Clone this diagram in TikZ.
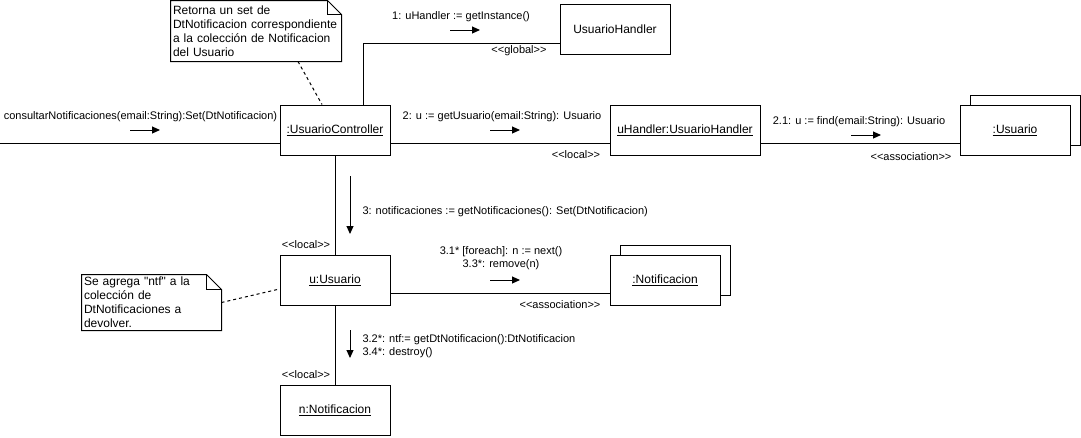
\documentclass[tikz,border=0pt]{standalone}
\usepackage{fontspec}
\newfontfamily\uifont{Liberation Sans}
\usetikzlibrary{arrows.meta}

\begin{document}
\begin{tikzpicture}[x=1pt, y=-1pt, line width=1pt, font=\uifont,
  obj/.style={draw, fill=white, minimum width=110pt, minimum height=50pt, inner sep=0pt, font=\uifont\fontsize{12}{14}\selectfont},
  lbl/.style={inner sep=0pt, font=\uifont\fontsize{11}{13}\selectfont},
  msg/.style={-{Triangle[length=8pt,width=7pt]}},
  notebox/.style={inner sep=2pt, align=left, font=\uifont\fontsize{12}{14}\selectfont},
  link/.style={dash pattern=on 3pt off 3pt}]

\useasboundingbox (0,0) rectangle (1081,437);

% objects
\node[obj] (ctrl) at (335,130) {\underline{:UsuarioController}};
\node[obj] (uh) at (615,29.5) {UsuarioHandler};
\node[obj, minimum width=150pt] (hdl) at (685,130) {\underline{uHandler:UsuarioHandler}};
\node[obj] (usrback) at (1025,120) {};
\node[obj] (usr) at (1015,130) {\underline{:Usuario}};
\node[obj] (uu) at (335,280) {\underline{u:Usuario}};
\node[obj] (notifback) at (675,270) {};
\node[obj] (notif) at (665,280) {\underline{:Notificacion}};
\node[obj] (nn) at (335,410) {\underline{n:Notificacion}};

% notes
\node[notebox, text width=166pt, minimum height=60pt] (note1) at (256,31)
{Retorna un set de\\
DtNotificacion correspondiente\\
a la colección de Notificacion\\
del Usuario};
\draw (note1.north west) -- ([xshift=-14pt]note1.north east) -- ([yshift=-14pt]note1.north east) -- (note1.south east) -- (note1.south west) -- cycle;
\draw ([xshift=-14pt]note1.north east) |- ([yshift=-14pt]note1.north east);

\node[notebox, text width=135pt, minimum height=55pt] (note2) at (151.5,302.5)
{Se agrega "ntf" a la\\
colección de\\
DtNotificaciones a\\
devolver.};
\draw (note2.north west) -- ([xshift=-15pt]note2.north east) -- ([yshift=-15pt]note2.north east) -- (note2.south east) -- (note2.south west) -- cycle;
\draw ([xshift=-15pt]note2.north east) |- ([yshift=-15pt]note2.north east);

% links
\coordinate (entry) at (0,143);
\draw (entry) -- (entry -| ctrl.west);
\draw ([xshift=28pt]ctrl.north) |- ([yshift=-13.5pt]uh.west);
\draw ([yshift=-13pt]ctrl.east) -- ([yshift=-13pt]hdl.west);
\draw ([yshift=-13pt]hdl.east) -- ([yshift=-13pt]usr.west);
\draw (ctrl.south) -- (uu.north);
\draw ([yshift=-13pt]uu.east) -- ([yshift=-13pt]notif.west);
\draw (uu.south) -- (nn.north);
\draw[link] ([xshift=42pt]note1.south) -- ([xshift=-13pt]ctrl.north);
\draw[link] (note2.east) -- ([yshift=-9pt]uu.west);

% messages
\coordinate (m0) at (130,130);
\coordinate (m1) at (450,30);
\coordinate (m2) at (490,130);
\coordinate (m21) at (851,135);
\coordinate (m3) at (350,176);
\coordinate (m31) at (490,280);
\coordinate (m32) at (350,330);
\draw[msg] (m0) -- ++(30,0);
\draw[msg] (m1) -- ++(30,0);
\draw[msg] (m2) -- ++(30,0);
\draw[msg] (m21) -- ++(30,0);
\draw[msg] (m3) -- ++(0,58);
\draw[msg] (m31) -- ++(0:30);
\draw[msg] (m32) -- ++(0,28);

\node[lbl] (l0) at (140.5,117) {consultarNotificaciones(email:String):Set(DtNotificacion)};
\node[lbl] (l1) at (461,17) {1: uHandler := getInstance()};
\node[lbl] (l1s) at (519,51) {<\kern0pt<global>\kern0pt>};
\node[lbl] (l2) at (502,117) {2: u := getUsuario(email:String): Usuario};
\node[lbl] (l2s) at (576,155) {<\kern0pt<local>\kern0pt>};
\node[lbl] (l21) at (859,122) {2.1: u := find(email:String): Usuario};
\node[lbl] (l21s) at (911,157) {<\kern0pt<association>\kern0pt>};
\node[lbl, anchor=west] (l3) at (362,212) {3: notificaciones := getNotificaciones(): Set(DtNotificacion)};
\node[lbl] (l3s) at (306,245) {<\kern0pt<local>\kern0pt>};
\node[lbl, align=center] (l31) at (501,258.5) {3.1* [foreach]: n := next()\\3.3*: remove(n)};
\node[lbl] (l31s) at (560,305) {<\kern0pt<association>\kern0pt>};
\node[lbl, align=left, anchor=west] (l32) at (362,346) {3.2*: ntf:= getDtNotificacion():DtNotificacion\\3.4*: destroy()};
\node[lbl] (l32s) at (306,375) {<\kern0pt<local>\kern0pt>};
\end{tikzpicture}
\end{document}
